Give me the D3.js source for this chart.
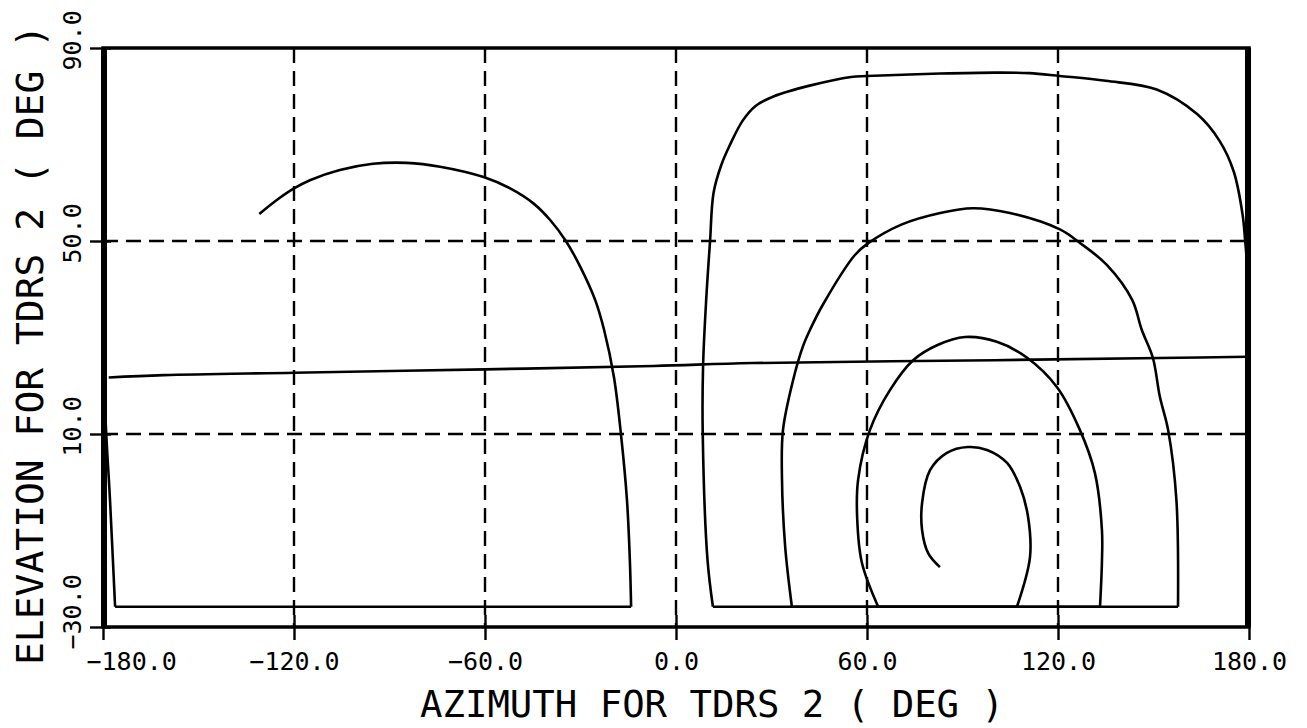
<!DOCTYPE html>
<meta charset="utf-8">
<style>

body,html{
  margin: 0;
  padding: 0;
  background: #fff;
}

svg text{
  font-family: "DejaVu Sans Mono", "Liberation Mono", monospace;
  fill: #000;
}
.grid line {
  stroke: #000;
  stroke-width: 2.4;
  stroke-dasharray: 15 8;
}
.track {
  fill: none;
  stroke: #000;
  stroke-width: 2.6;
  stroke-linejoin: round;
}

</style>
<svg width="1307" height="728"></svg>
<script src="https://d3js.org/d3.v7.min.js"></script>
<script>

// tick values
var azTicks = [-180, -120, -60, 0, 60, 120, 180];
var elTicks = [-30, 10, 50, 90];
var azGrid = [-120, -60, 0, 60, 120];
var elGrid = [10, 50];
var floorEl = -25.8;

// [azimuth, elevation]
var westPass = [[-130.9,55.6],[-125.4,58.5],[-120,60.9],[-115,62.6],[-105.6,64.7],[-95.2,66.0],
  [-84.6,66.2],[-74.1,65.4],[-60.2,63.2],[-52.1,60.9],[-44.8,57.8],[-39.6,54.4],[-34.6,50],
  [-30.1,44.7],[-25.4,37.8],[-22.6,31.6],[-19.5,21.8],[-17.3,10],[-15.4,-3.7],[-14.5,-16.1],
  [-14.1,-25.8],[-176.2,-25.8],[-177.8,-3.7],[-179.3,15],[-179.7,43]];

var flatPass = [[-178.2,21.7],[-161,22.2],[-120,22.7],[-60,23.4],[-7,24.1],[24,24.7],
  [100,25.3],[158,25.8],[179.7,26.0]];

var eastPass = [[179.7,43],[178.8,50],[178,55.4],[175.2,64.4],[170.7,70.8],[163.7,76.3],
  [151,81.4],[135,83.2],[120.6,84.2],[111,84.8],[100,84.9],[83,84.7],[60,84.2],[55,84],
  [42,82.2],[30.8,80],[25,78],[21,75],[17,70],[14.2,65.7],[11.8,60],[10.7,50],[9.5,38],
  [8.5,24],[8.4,10],[9.9,-16.1],[11.6,-25.8],
  [157.7,-25.8],[157.2,-3.7],[154.6,10.8],[152,17.7],[149.8,25.8],[146.3,31.6],[143.3,37.8],
  [135.4,45],[126.9,49.6],[120.6,52.4],[104.9,55.8],[93.3,56.8],[83,55.8],[70.8,53.4],
  [60.5,49.6],[56.2,47.1],[46.3,37],[42.1,31.6],[39.9,28.2],[36.8,21.2],[33.6,10.8],
  [33.3,0.5],[34.3,-13.4],[36.4,-25.8],
  [133.2,-25.8],[133.8,-16.5],[133.8,-9.9],[131.6,1.9],[126.9,10.8],[119.7,19.7],[110.3,25.8],
  [100.8,29.1],[90.8,30.1],[82,28.4],[74.5,25.3],[67.2,19.1],[60.9,10.8],[57.2,0.5],
  [56.9,-7.2],[58.4,-16.7],[63.5,-25.8],
  [107.1,-25.8],[111.2,-15.5],[110.6,-7.2],[108.1,-1.0],[104,4],[97.7,6.7],[91.7,7.3],
  [85.1,6.1],[79.8,2.5],[77.3,-4.3],[77.3,-9.9],[79.2,-14.7],[82.9,-17.6]];

var svg = d3.select("svg"),
    margin = {top: 48, right: 58, bottom: 101, left: 103},
    width = +svg.attr("width") - margin.left - margin.right,
    height = +svg.attr("height") - margin.top - margin.bottom;

var g = svg.append("g").attr("transform", "translate(" + margin.left + "," + margin.top + ")");

var x = d3.scaleLinear().domain([-180, 180]).range([0, width]);
var y = d3.scaleLinear().domain([-30, 90]).range([height, 0]);
var fmt = d3.format(".1f");

// dashed grid
var grid = g.append("g").attr("class", "grid");
grid.selectAll(".gx").data(azGrid).enter().append("line")
    .attr("x1", x).attr("x2", x).attr("y1", 0).attr("y2", height);
grid.selectAll(".gy").data(elGrid).enter().append("line")
    .attr("y1", y).attr("y2", y).attr("x1", 0).attr("x2", width);

// axes
var xAxis = g.append("g")
    .attr("transform", "translate(0," + height + ")")
    .call(d3.axisBottom(x).tickValues(azTicks).tickFormat(fmt).tickSizeInner(13).tickSizeOuter(0));
xAxis.select(".domain").remove();
xAxis.selectAll(".tick line").attr("y1", -12).attr("stroke-width", 2.4);
xAxis.selectAll(".tick text")
    .attr("y", 43).attr("dy", 0)
    .style("font-size", "25px");
xAxis.select(".tick text").attr("text-anchor", "start").attr("dx", -17);

var yAxis = g.append("g")
    .call(d3.axisLeft(y).tickValues(elTicks).tickFormat(fmt).tickSizeInner(13).tickSizeOuter(0));
yAxis.select(".domain").remove();
yAxis.selectAll(".tick line").attr("x1", 8).attr("stroke-width", 2.4);
yAxis.selectAll(".tick text")
    .attr("transform", "rotate(-90)")
    .attr("text-anchor", "start")
    .attr("x", -22).attr("y", -22).attr("dy", 0)
    .style("font-size", "25px");

// frame
g.append("rect")
    .attr("width", width).attr("height", height)
    .attr("fill", "none").attr("stroke", "#000").attr("stroke-width", 3.5);
g.append("line").attr("x1", x(-180) + 1).attr("x2", x(-180) + 1).attr("y1", 0).attr("y2", height)
    .attr("stroke", "#000").attr("stroke-width", 6);
g.append("line").attr("x1", x(180) - 1).attr("x2", x(180) - 1).attr("y1", 0).attr("y2", height)
    .attr("stroke", "#000").attr("stroke-width", 6);

// split a pass at its floor runs so the arcs can be smoothed and the floor stays straight
function pieces(pass) {
  var out = [], cur = [pass[0]];
  for (var i = 1; i < pass.length; i++) {
    var a = pass[i - 1], b = pass[i];
    if (a[1] === floorEl && b[1] === floorEl) {
      if (cur.length > 1) out.push(cur);
      out.push([a, b]);
      cur = [b];
    } else {
      cur.push(b);
    }
  }
  if (cur.length > 1) out.push(cur);
  return out;
}

var line = d3.line()
    .x(function(d) { return x(d[0]); })
    .y(function(d) { return y(d[1]); })
    .curve(d3.curveCatmullRom.alpha(0.5));

var segs = [].concat(pieces(westPass), pieces(flatPass), pieces(eastPass));

g.selectAll(".track")
    .data(segs)
    .enter().append("path")
    .attr("class", "track")
    .attr("d", line);

// titles
svg.append("text")
    .attr("x", 420).attr("y", 717)
    .attr("textLength", 584)
    .attr("lengthAdjust", "spacingAndGlyphs")
    .style("font-size", "38px")
    .text("AZIMUTH FOR TDRS 2 ( DEG )");

svg.append("text")
    .attr("transform", "translate(43,665) rotate(-90)")
    .attr("textLength", 640)
    .attr("lengthAdjust", "spacingAndGlyphs")
    .style("font-size", "38px")
    .text("ELEVATION FOR TDRS 2 ( DEG )");

</script>
